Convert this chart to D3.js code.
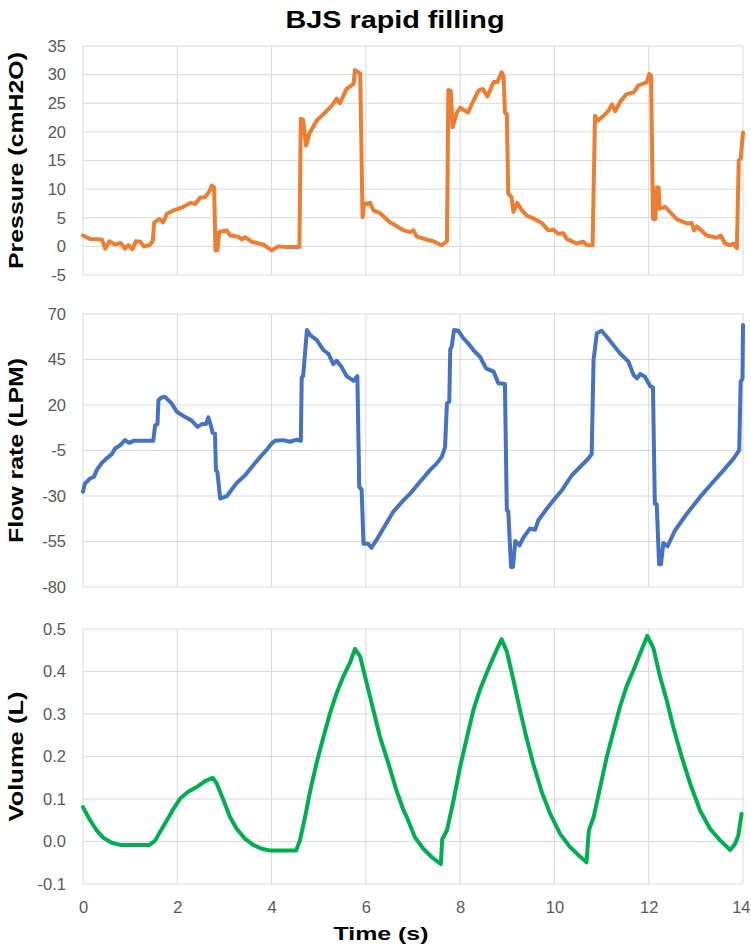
<!DOCTYPE html>
<html lang="en">

<head>
    <meta charset="utf-8" />
    <script src="https://cdnjs.cloudflare.com/ajax/libs/d3/7.8.5/d3.min.js"></script>
    <style type="text/css">
        body {
            margin: 0;
            background: #fff;
        }

        text {
            font-family: "Liberation Sans", Arial, sans-serif;
        }

        .tick text {
            fill: #595959;
            font-size: 16.5px;
        }

        .grid line {
            stroke: #d9d9d9;
            stroke-width: 1;
        }

        .label {
            font-weight: bold;
            fill: #000;
        }
    </style>
</head>

<body>
    <div id="chart"></div>
    <script type="text/javascript">
        // values
        var timeTicks = [0, 2, 4, 6, 8, 10, 12, 14];
        var timeLabels = ["0", "2", "4", "6", "8", "10", "12", "14"];

        var pressureTicks = [-5, 0, 5, 10, 15, 20, 25, 30, 35];
        var pressureLabels = ["-5", "0", "5", "10", "15", "20", "25", "30", "35"];
        var flowTicks = [-80, -55, -30, -5, 20, 45, 70];
        var flowLabels = ["-80", "-55", "-30", "-5", "20", "45", "70"];
        var volumeTicks = [-0.1, 0, 0.1, 0.2, 0.3, 0.4, 0.5];
        var volumeLabels = ["-0.1", "0.0", "0.1", "0.2", "0.3", "0.4", "0.5"];

        var pressureTime = [0, 0.15, 0.4, 0.47, 0.56, 0.68, 0.8, 0.89, 0.96, 1.05, 1.12, 1.22, 1.29, 1.41, 1.48, 1.51,
            1.62, 1.7, 1.78, 1.92, 2.13, 2.28, 2.38, 2.48, 2.59, 2.68, 2.73, 2.78, 2.81, 2.85, 2.89, 3.05, 3.12, 3.3,
            3.37, 3.44, 3.58, 3.83, 4.0, 4.14, 4.32, 4.59, 4.62, 4.67, 4.73, 4.8, 4.96, 5.1, 5.28, 5.38, 5.45, 5.59,
            5.74, 5.77, 5.88, 5.93, 5.96, 6.09, 6.16, 6.3, 6.51, 6.8, 6.94, 7.01, 7.08, 7.29, 7.43, 7.61, 7.72, 7.75,
            7.8, 7.84, 7.93, 8.0, 8.17, 8.25, 8.39, 8.48, 8.58, 8.71, 8.79, 8.88, 8.92, 8.95, 8.99, 9.02, 9.09, 9.13,
            9.21, 9.31, 9.41, 9.55, 9.73, 9.87, 9.98, 10.08, 10.19, 10.26, 10.47, 10.61, 10.69, 10.81, 10.86, 10.93,
            11.04, 11.15, 11.22, 11.29, 11.39, 11.53, 11.68, 11.78, 11.96, 12.01, 12.05, 12.09, 12.14, 12.17, 12.21,
            12.23, 12.35, 12.42, 12.6, 12.81, 12.91, 12.96, 13.02, 13.23, 13.44, 13.53, 13.62, 13.73, 13.8, 13.87,
            13.91, 13.95, 14.0];
        var pressureValue = [1.9, 1.3, 1.2, -0.4, 0.9, 0.3, 0.6, -0.4, 0.2, -0.5, 0.9, 0.8, 0, 0.2, 0.9, 4.2,
            4.8, 4.2, 5.7, 6.3, 6.9, 7.6, 7.4, 8.5, 8.6, 9.6, 10.6, 10.3, -0.7, -0.7, 2.5, 2.8, 1.9, 1.7,
            1.2, 1.6, 0.8, 0.3, -0.7, 0, -0.1, -0.1, 22.3, 22.1, 17.6, 19.7, 22, 23.1, 24.6, 25.8, 25, 27.5,
            28.4, 30.8, 30.2, 5.1, 7.4, 7.6, 6.3, 5.8, 4.2, 2.8, 2.5, 2.8, 1.7, 1.2, 0.9, 0.2, 0.9, 27.3,
            27.2, 20.8, 23.4, 24.2, 23.4, 24.9, 27.2, 27.5, 26.2, 28.7, 28.7, 30.4, 29.8, 23.4, 23.1, 9.2, 8.6, 6.0,
            7.6, 6.3, 5.4, 4.9, 4.1, 2.8, 2.9, 2.2, 2.3, 1.3, 0.5, 0.8, 0.2, 0.2, 22.8, 22.0,
            22.8, 23.7, 24.8, 23.6, 25.2, 26.6, 26.9, 28.1, 28.7, 30.1, 29.8, 4.8, 4.8, 10.3, 10.3,
            6.6, 6.9, 6.3, 4.7, 4.0, 4.1, 2.8, 3.5, 1.9, 1.5, 1.9, 0.5, 0.2, 0.5, -0.3,
            15.0, 15.3, 19.9];

        var flowTime = [0, 0.04, 0.15, 0.23, 0.29, 0.4, 0.5, 0.61, 0.68, 0.79, 0.89, 0.98, 1.07, 1.49, 1.53, 1.58,
            1.6, 1.67, 1.74, 1.88, 1.99, 2.16, 2.31, 2.43, 2.52, 2.61, 2.66, 2.71, 2.75, 2.8, 2.82, 2.85, 2.91, 3.05,
            3.12, 3.26, 3.44, 3.61, 3.79, 3.9, 4.0, 4.07, 4.25, 4.39, 4.53, 4.62, 4.64, 4.67, 4.75, 4.82, 4.96, 5.1,
            5.21, 5.31, 5.38, 5.49, 5.59, 5.74, 5.82, 5.86, 5.91, 5.95, 6.05, 6.12, 6.23, 6.37, 6.58, 6.8, 6.94, 7.15,
            7.36, 7.5, 7.61, 7.66, 7.68, 7.72, 7.77, 7.79, 7.82, 7.87, 7.96, 8.07, 8.17, 8.28, 8.42, 8.55, 8.71, 8.81,
            8.95, 8.99, 9.02, 9.08, 9.12, 9.17, 9.26, 9.34, 9.48, 9.59, 9.66, 9.84, 9.98, 10.16, 10.37, 10.58, 10.72,
            10.79, 10.83, 10.9, 11.0, 11.11, 11.25, 11.39, 11.57, 11.68, 11.75, 11.82, 11.92, 12.03, 12.09, 12.13,
            12.17, 12.22, 12.26, 12.31, 12.4, 12.56, 12.81, 13.09, 13.37, 13.59, 13.8, 13.92, 13.95, 13.99, 14.0];
        var flowValue = [-27.7, -23.2, -20.4, -19.5, -15.8, -11.8, -9.4, -7.0, -3.9, -2.1, 0.7, -0.8, 0.3, 0.3, 8.9, 9.5,
            22.7, 24.2, 24.5, 20.9, 16.3, 13.5, 11.3, 8.0, 9.5, 9.5, 13.2, 8.9, 4.7, 4.3, -15.8, -16.7, -31.4, -30.1,
            -27.7, -22.8, -18.6, -13.1, -7.6, -4.5, -1.2, 0.3, 0.7, -0.2, 1.0, 0.3, 35.2, 35.9, 61.2, 58.4, 55.7, 50.2,
            48.0, 42.5, 44.3, 40.7, 35.9, 33.3, 35.9, -25.0, -26.5, -56.2, -56.2, -58.4, -54.0, -47.9, -38.7, -32.3, -28.7, -22.2,
            -15.8, -12.2, -8.5, -4.8, -3.0, 20.9, 21.8, 50.6, 52.0, 61.2, 60.8, 56.6, 53.9, 50.2, 46.5, 40.1, 38.3, 31.9,
            31.5, -37.8, -38.2, -69.0, -69.0, -54.7, -57.1, -52.9, -47.9, -48.5, -43.3, -36.9, -32.3, -26.8, -18.6, -13.1, -9.4,
            -7.0, 44.7, 59.4, 60.8, 57.5, 52.9, 48.4, 43.8, 36.4, 34.6, 37.0, 35.5, 30.4, 29.7, -34.2,
            -34.5, -67.5, -67.5, -55.8, -57.6, -48.8, -39.7, -30.5, -22.2, -15.8, -9.4, -4.8, 32.8, 34.6, 64.0];

        var volumeTime = [0, 0.15, 0.29, 0.43, 0.61, 0.79, 1.41, 1.53, 1.63, 1.78, 1.92, 2.06, 2.23, 2.41, 2.59, 2.75,
            2.84, 2.98, 3.12, 3.26, 3.44, 3.61, 3.79, 3.97, 4.52, 4.6, 4.71, 4.82, 4.96, 5.1, 5.24, 5.38, 5.52, 5.66,
            5.77, 5.88, 6.02, 6.16, 6.3, 6.48, 6.65, 6.8, 6.87, 7.04, 7.22, 7.4, 7.59, 7.62, 7.72, 7.86, 8.0, 8.14,
            8.28, 8.42, 8.56, 8.71, 8.88, 8.99, 9.13, 9.27, 9.41, 9.55, 9.73, 9.91, 10.12, 10.33, 10.54, 10.68, 10.73,
            10.83, 10.97, 11.11, 11.25, 11.39, 11.53, 11.68, 11.82, 11.97, 12.1, 12.24, 12.38, 12.52, 12.7, 12.88,
            13.09, 13.3, 13.52, 13.73, 13.83, 13.9, 13.97];
        var volumeValue = [0.081, 0.050, 0.026, 0.009, -0.003, -0.008, -0.008, 0.002, 0.022, 0.050, 0.077, 0.101, 0.117, 0.128, 0.142, 0.150,
            0.136, 0.097, 0.057, 0.030, 0.006, -0.008, -0.017, -0.021, -0.021, 0.002, 0.057, 0.120, 0.187, 0.246, 0.302, 0.349, 0.388, 0.420,
            0.453, 0.435, 0.372, 0.309, 0.246, 0.183, 0.120, 0.073, 0.057, 0.010, -0.017, -0.037, -0.053, 0.006, 0.026, 0.097, 0.176, 0.243,
            0.309, 0.357, 0.396, 0.435, 0.476, 0.447, 0.380, 0.309, 0.243, 0.183, 0.117, 0.065, 0.018, -0.013, -0.035, -0.049, 0.026,
            0.057, 0.128, 0.199, 0.258, 0.317, 0.365, 0.404, 0.443, 0.484, 0.455, 0.388, 0.333, 0.270, 0.199, 0.136,
            0.073, 0.030, 0.002, -0.020, -0.006, 0.014, 0.065];

        // layout
        let width = 751, height = 951;
        let left = 83, right = 743;

        var panels = [
            { time: pressureTime, values: pressureValue, ticks: pressureTicks, labels: pressureLabels, color: '#ed7d31', name: 'Pressure (cmH2O)', top: 46, bottom: 275, len: 217 },
            { time: flowTime, values: flowValue, ticks: flowTicks, labels: flowLabels, color: '#4472c4', name: 'Flow rate (LPM)', top: 314, bottom: 587, len: 185 },
            { time: volumeTime, values: volumeValue, ticks: volumeTicks, labels: volumeLabels, color: '#00b050', name: 'Volume (L)', top: 629, bottom: 884, len: 130 }
        ];

        var svg = d3.select('#chart')
            .append('svg')
            .attr('width', width)
            .attr('height', height);

        var x = d3.scaleLinear()
            .domain([timeTicks[0], timeTicks[timeTicks.length - 1]])
            .range([left, right]);

        panels.forEach(function (p, k) {
            var y = d3.scaleLinear()
                .domain([p.ticks[0], p.ticks[p.ticks.length - 1]])
                .range([p.bottom, p.top]);

            var g = svg.append('g');

            // grid (outer lines double as the frame)
            g.append('g').attr('class', 'grid')
                .selectAll('line')
                .data(p.ticks)
                .enter().append('line')
                .attr('x1', left).attr('x2', right)
                .attr('y1', function (d) { return y(d); })
                .attr('y2', function (d) { return y(d); });

            g.append('g').attr('class', 'grid')
                .selectAll('line')
                .data(timeTicks)
                .enter().append('line')
                .attr('x1', function (d) { return x(d); })
                .attr('x2', function (d) { return x(d); })
                .attr('y1', p.top).attr('y2', p.bottom);

            var yAxis = d3.axisLeft(y)
                .tickValues(p.ticks)
                .tickFormat(function (d, i) { return p.labels[i]; })
                .tickSize(0)
                .tickPadding(17);

            g.append('g')
                .attr('transform', 'translate(' + left + ',0)')
                .call(yAxis)
                .call(function (a) { a.select('.domain').remove(); });

            var line = d3.line()
                .x(function (d, i) { return x(p.time[i]); })
                .y(function (d) { return y(d); });

            g.append('path')
                .datum(p.values)
                .attr('d', line)
                .attr('fill', 'none')
                .attr('stroke', p.color)
                .attr('stroke-width', 4)
                .attr('stroke-linejoin', 'round')
                .attr('stroke-linecap', 'round');

            g.append('text')
                .attr('class', 'label')
                .attr('transform', 'translate(23,' + (p.top + p.bottom) / 2 + ') rotate(-90)')
                .attr('text-anchor', 'middle')
                .style('font-size', '21px')
                .attr('textLength', p.len)
                .attr('lengthAdjust', 'spacingAndGlyphs')
                .text(p.name);

            if (k == panels.length - 1) {
                var xAxis = d3.axisBottom(x)
                    .tickValues(timeTicks)
                    .tickFormat(function (d, i) { return timeLabels[i]; })
                    .tickSize(0)
                    .tickPadding(17);
                var xg = g.append('g')
                    .attr('transform', 'translate(0,' + p.bottom + ')')
                    .call(xAxis)
                    .call(function (a) { a.select('.domain').remove(); });
                // last label sits against the right edge, as in the original
                xg.selectAll('.tick text')
                    .filter(function (d, i) { return i == timeTicks.length - 1; })
                    .attr('text-anchor', 'end')
                    .attr('dx', '7');
            }
        });

        svg.append('text')
            .attr('class', 'label')
            .attr('x', 395)
            .attr('y', 28)
            .attr('text-anchor', 'middle')
            .style('font-size', '24px')
            .attr('textLength', 219)
            .attr('lengthAdjust', 'spacingAndGlyphs')
            .text('BJS rapid filling');

        svg.append('text')
            .attr('class', 'label')
            .attr('x', 381)
            .attr('y', 940)
            .attr('text-anchor', 'middle')
            .style('font-size', '19px')
            .attr('textLength', 95)
            .attr('lengthAdjust', 'spacingAndGlyphs')
            .text('Time (s)');
    </script>
</body>

</html>
